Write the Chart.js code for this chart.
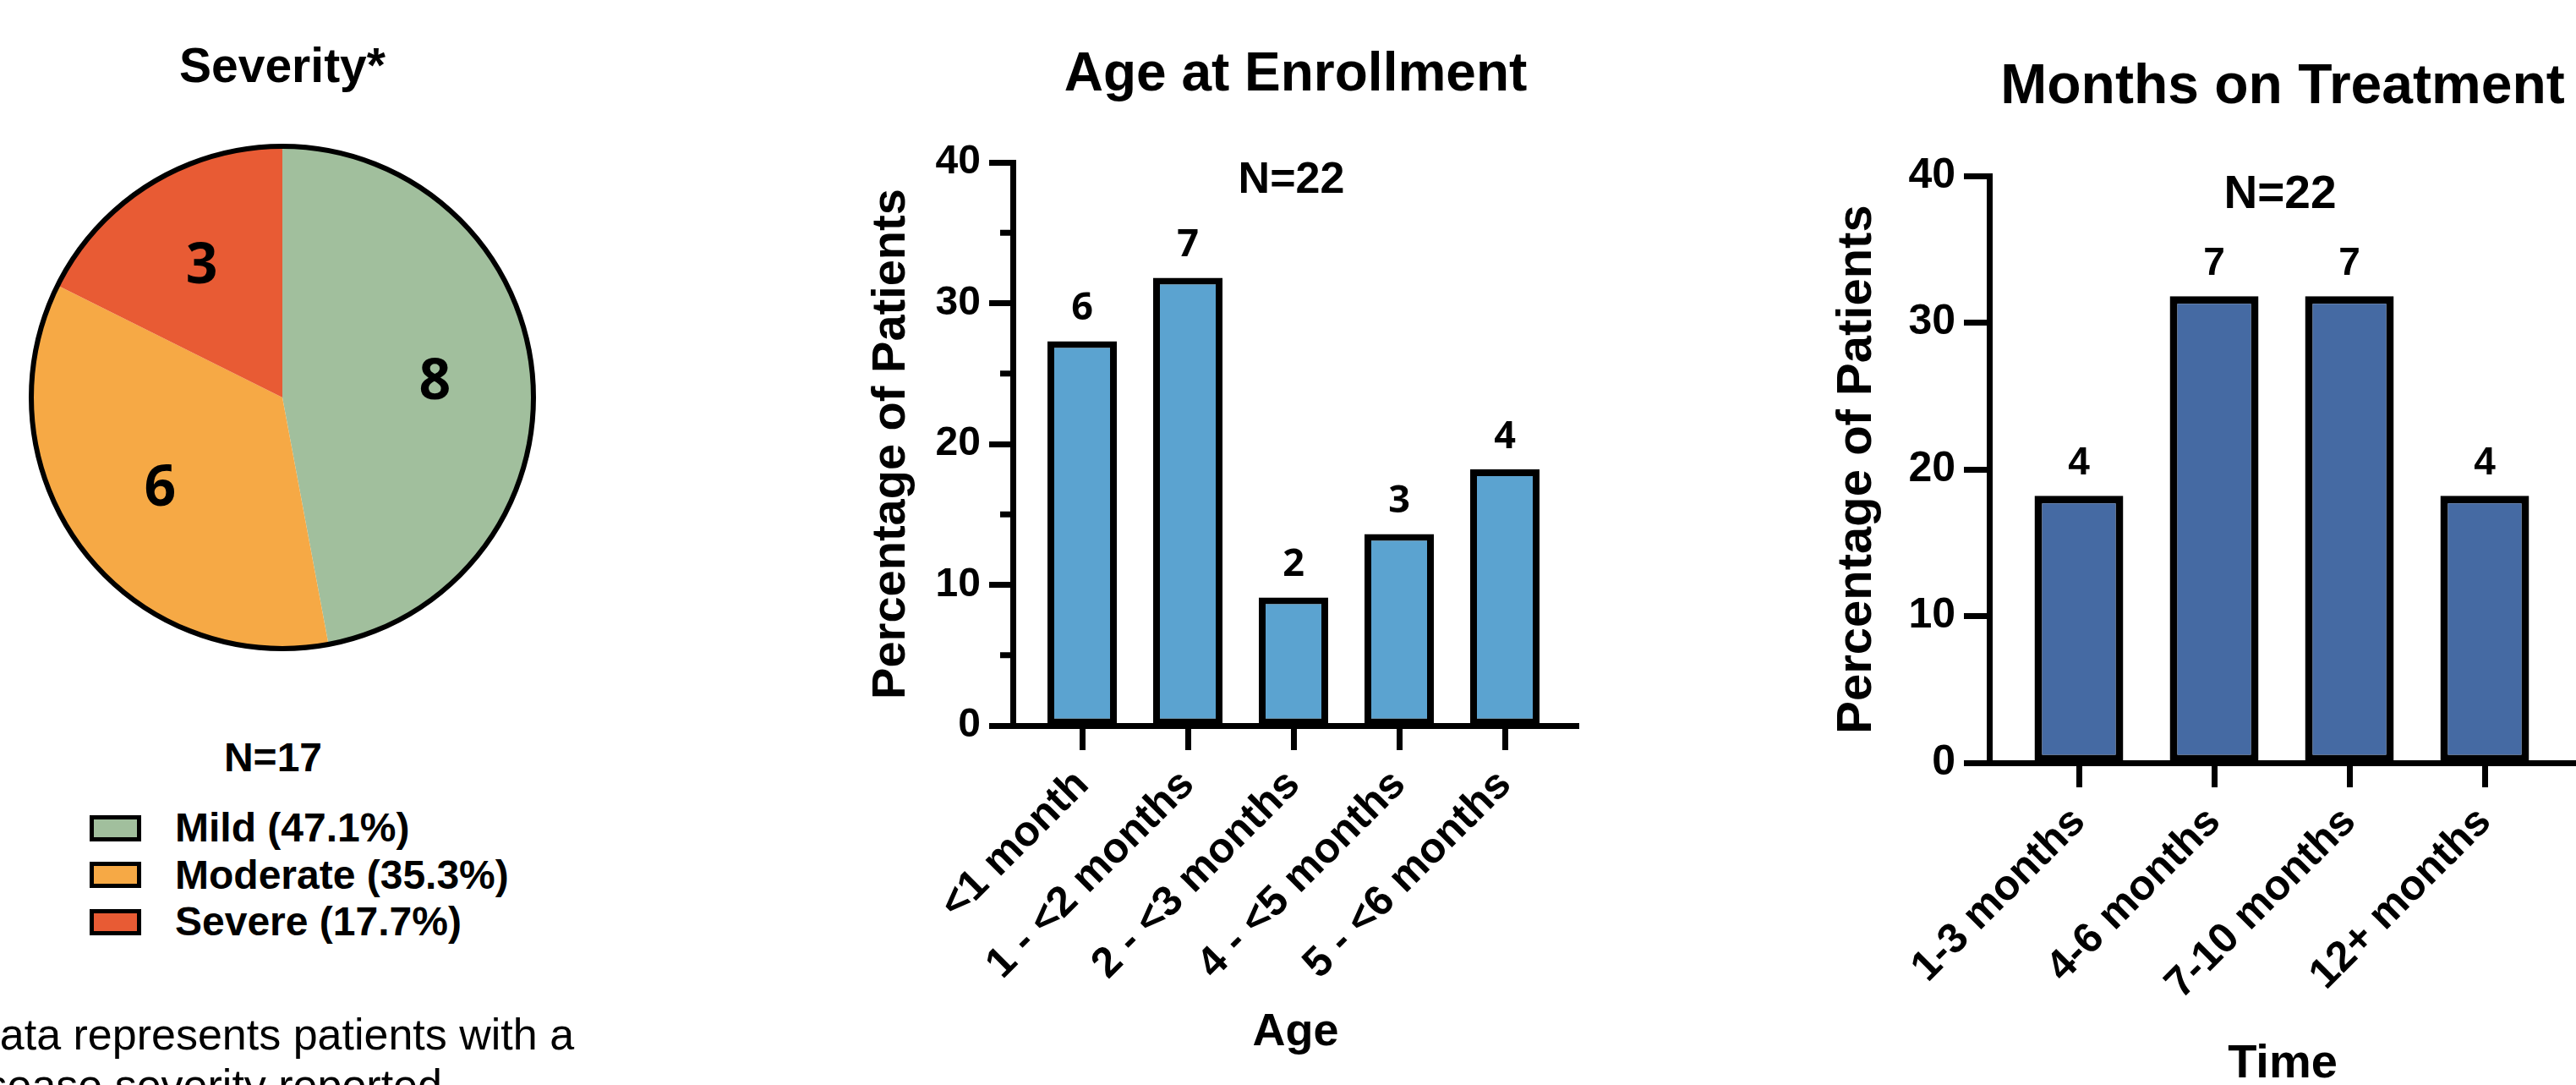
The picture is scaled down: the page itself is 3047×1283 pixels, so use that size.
<!DOCTYPE html>
<html lang="en">
<head>
  <meta charset="UTF-8">
  <title>Severity, Age at Enrollment, Months on Treatment</title>
  <script src="https://cdn.jsdelivr.net/npm/chart.js"></script>
  <style>
    html, body { margin: 0; padding: 0; background: #fff; }
    body {
      position: relative;
      width: 3047px;
      height: 1283px;
      overflow: hidden;
      color: #000;
      font-family: 'Liberation Sans', Arial, sans-serif;
    }
    .chart-box { position: absolute; top: 0; }
    #pie-box  { left: 0;      width: 668px; height: 800px; }
    #age-box  { left: 1000px; width: 910px; height: 1320px; }
    #time-box { left: 2100px; width: 990px; height: 1320px; }

    .legend-title {
      position: absolute; left: 173px; top: 872px; width: 300px;
      text-align: center; font: bold 48px/48px 'Liberation Sans', Arial, sans-serif;
    }
    .legend-row {
      position: absolute; left: 106px; height: 31px;
      display: flex; align-items: center; white-space: nowrap;
      font: bold 48px/1 'Liberation Sans', Arial, sans-serif;
    }
    .legend-swatch {
      width: 61px; height: 31px; box-sizing: border-box;
      border: 5px solid #000; margin-right: 40px; flex: none;
    }
    .note {
      position: absolute; left: -58px; top: 1193px; white-space: nowrap;
      font: 52px/60px 'Liberation Sans', Arial, sans-serif;
    }
  </style>
</head>
<body>
  <div class="chart-box" id="pie-box"><canvas id="pie-chart"></canvas></div>
  <div id="pie-legend"></div>
  <div class="note">*Data represents patients with a<br>disease severity reported</div>

  <div class="chart-box" id="age-box"><canvas id="age-chart"></canvas></div>
  <div class="chart-box" id="time-box"><canvas id="time-chart"></canvas></div>

  <script>
    // Severity pie
    const severityLabels = ['Mild (47.1%)', 'Moderate (35.3%)', 'Severe (17.7%)'];
    const severityCounts = [8, 6, 3];
    const severityColors = ['#a1bf9d', '#f6a945', '#e85b34'];
    const severityN = 'N=17';

    // Age at enrollment
    const ageLabels = ['<1 month', '1 - <2 months', '2 - <3 months', '4 - <5 months', '5 - <6 months'];
    const agePercent = [27.3, 31.8, 9.1, 13.6, 18.2];
    const ageCounts = [6, 7, 2, 3, 4];
    const ageMinorTicks = [5, 15, 25, 35];

    // Months on treatment
    const timeLabels = ['1-3 months', '4-6 months', '7-10 months', '12+ months'];
    const timePercent = [18.2, 31.8, 31.8, 18.2];
    const timeCounts = [4, 7, 7, 4];

    const FONT = "'Liberation Sans', Arial, sans-serif";
    Chart.defaults.font.family = FONT;
    Chart.defaults.color = '#000';

    // counts over the bars, the N= note and the short minor ticks
    const barNotes = {
      id: 'barNotes',
      afterDatasetsDraw(chart, args, opts) {
        const ctx = chart.ctx;
        const area = chart.chartArea;
        ctx.save();
        ctx.fillStyle = '#000';
        ctx.textAlign = 'center';
        ctx.textBaseline = 'middle';

        ctx.font = opts.countFont;
        chart.getDatasetMeta(0).data.forEach((bar, i) => {
          ctx.fillText(String(opts.counts[i]), bar.x, bar.y - opts.countGap);
        });

        ctx.font = opts.nFont;
        ctx.fillText(opts.nText, (area.left + area.right) / 2 + opts.nDx, area.top + opts.nDy);

        if (opts.minor) {
          const ys = chart.scales.y;
          ctx.strokeStyle = '#000';
          ctx.lineWidth = 7;
          opts.minor.forEach(v => {
            const y = ys.getPixelForValue(v);
            ctx.beginPath();
            ctx.moveTo(area.left - 15, y);
            ctx.lineTo(area.left, y);
            ctx.stroke();
          });
        }
        ctx.restore();
      }
    };

    // outer ring and numbers inside the slices
    const pieNotes = {
      id: 'pieNotes',
      afterDatasetsDraw(chart, args, opts) {
        const ctx = chart.ctx;
        const arcs = chart.getDatasetMeta(0).data;
        if (!arcs.length) return;
        const { x, y, outerRadius } = arcs[0];
        ctx.save();
        ctx.strokeStyle = '#000';
        ctx.lineWidth = 6;
        ctx.beginPath();
        ctx.arc(x, y, outerRadius, 0, Math.PI * 2);
        ctx.stroke();

        ctx.fillStyle = '#000';
        ctx.font = opts.font;
        ctx.textAlign = 'center';
        ctx.textBaseline = 'middle';
        arcs.forEach((arc, i) => {
          const mid = (arc.startAngle + arc.endAngle) / 2;
          const r = arc.outerRadius * 0.61;
          ctx.fillText(String(severityCounts[i]), arc.x + Math.cos(mid) * r, arc.y + Math.sin(mid) * r);
        });
        ctx.restore();
      }
    };

    new Chart(document.getElementById('pie-chart'), {
      type: 'pie',
      data: {
        labels: severityLabels,
        datasets: [{
          data: severityCounts,
          backgroundColor: severityColors,
          borderWidth: 0
        }]
      },
      options: {
        responsive: true,
        maintainAspectRatio: false,
        animation: false,
        radius: 297,
        layout: { padding: { bottom: 30 } },
        plugins: {
          legend: { display: false },
          tooltip: { enabled: false },
          title: {
            display: true,
            text: 'Severity*',
            color: '#000',
            font: { size: 57, weight: 'bold' },
            padding: { top: 47, bottom: 54.6 }
          },
          pieNotes: { font: "bold 66px 'Open Sans', sans-serif" }
        }
      },
      plugins: [pieNotes]
    });

    // html legend built from the pie arrays
    const legendEl = document.getElementById('pie-legend');
    const legendTitle = document.createElement('div');
    legendTitle.className = 'legend-title';
    legendTitle.textContent = severityN;
    legendEl.appendChild(legendTitle);
    severityLabels.forEach((label, i) => {
      const row = document.createElement('div');
      row.className = 'legend-row';
      row.style.top = (963.5 + i * 55.5) + 'px';
      const sw = document.createElement('span');
      sw.className = 'legend-swatch';
      sw.style.background = severityColors[i];
      row.appendChild(sw);
      row.appendChild(document.createTextNode(label));
      legendEl.appendChild(row);
    });

    function makeBarChart(id, s) {
      return new Chart(document.getElementById(id), {
        type: 'bar',
        data: {
          datasets: [{
            data: s.values.map((v, i) => ({ x: i, y: v })),
            backgroundColor: s.color,
            borderColor: '#000',
            borderWidth: s.border,
            borderSkipped: false,
            categoryPercentage: 1,
            barPercentage: 0.656
          }]
        },
        options: {
          responsive: true,
          maintainAspectRatio: false,
          animation: false,
          layout: { padding: { right: 43 } },
          plugins: {
            legend: { display: false },
            tooltip: { enabled: false },
            title: {
              display: true,
              fullSize: false,
              text: s.title,
              color: '#000',
              font: { size: s.titleSize, weight: 'bold' },
              padding: s.titlePad
            },
            barNotes: s.notes
          },
          scales: {
            x: {
              type: 'linear',
              min: s.xMin,
              max: s.xMax,
              offset: false,
              afterFit: sc => { sc.height = s.xHeight; },
              grid: {
                offset: false,
                drawOnChartArea: false,
                drawTicks: true,
                tickLength: 29,
                tickColor: '#000',
                tickWidth: 7
              },
              border: { display: true, color: '#000', width: 7 },
              ticks: {
                stepSize: 1,
                includeBounds: false,
                autoSkip: false,
                maxRotation: 45,
                minRotation: 45,
                padding: 12,
                color: '#000',
                font: { size: s.xTickSize, weight: 'bold' },
                callback: v => s.labels[v] ?? ''
              },
              title: {
                display: true,
                text: s.xTitle,
                color: '#000',
                font: { size: s.xTitleSize, weight: 'bold' },
                padding: { top: 0, bottom: s.xTitlePad }
              }
            },
            y: {
              min: 0,
              max: 40,
              afterFit: sc => { sc.width = s.yWidth; },
              grid: { drawOnChartArea: false, drawTicks: true, tickLength: s.yTick, tickColor: '#000', tickWidth: 7 },
              border: { display: true, color: '#000', width: 7 },
              ticks: {
                stepSize: 10,
                padding: 10,
                color: '#000',
                font: { size: s.yTickSize, weight: 'bold' }
              },
              title: {
                display: true,
                text: 'Percentage of Patients',
                color: '#000',
                font: { size: s.yTitleSize, weight: 'bold' },
                padding: { top: s.yTitlePad, bottom: 0 }
              }
            }
          }
        },
        plugins: [barNotes]
      });
    }

    makeBarChart('age-chart', {
      labels: ageLabels,
      values: agePercent,
      color: '#5ba3d0',
      border: 8,
      title: 'Age at Enrollment',
      titleSize: 64,
      titlePad: { top: 51, bottom: 64.2 },
      xMin: -0.656,
      xMax: 4.696,
      xHeight: 462,
      xTickSize: 50,
      xTitle: 'Age',
      xTitleSize: 54,
      xTitlePad: 66.6,
      yWidth: 198,
      yTick: 28,
      yTickSize: 48,
      yTitleSize: 56,
      yTitlePad: 21.4,
      notes: {
        counts: ageCounts,
        countFont: "bold 45px 'Open Sans', sans-serif",
        countGap: 38,
        nText: 'N=22',
        nFont: 'bold 52px ' + FONT,
        nDx: -5,
        nDy: 22,
        minor: ageMinorTicks
      }
    });

    makeBarChart('time-chart', {
      labels: timeLabels,
      values: timePercent,
      color: '#456aa3',
      border: 9,
      title: 'Months on Treatment',
      titleSize: 66,
      titlePad: { top: 64, bottom: 64.8 },
      xMin: -0.6625,
      xMax: 3.675,
      xHeight: 418,
      xTickSize: 50,
      xTitle: 'Time',
      xTitleSize: 56,
      xTitlePad: 27.4,
      yWidth: 253,
      yTick: 30,
      yTickSize: 50,
      yTitleSize: 58,
      yTitlePad: 62.2,
      notes: {
        counts: timeCounts,
        countFont: 'bold 46px ' + FONT,
        countGap: 38,
        nText: 'N=22',
        nFont: 'bold 55px ' + FONT,
        nDx: -3,
        nDy: 23,
        minor: null
      }
    });
  </script>
</body>
</html>
